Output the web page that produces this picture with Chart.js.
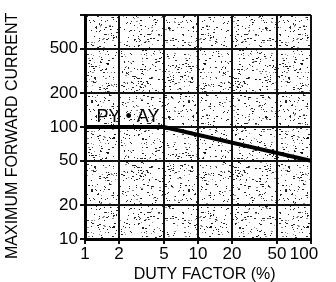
<!DOCTYPE html>
<html>
<head>
<meta charset="utf-8">
<script src="https://cdn.jsdelivr.net/npm/chart.js@4/dist/chart.umd.min.js"></script>
<style>
  html, body { margin: 0; padding: 0; background: #fff; }
  #wrap { width: 336px; height: 282px; }
</style>
</head>
<body>
<div id="wrap"><canvas id="myChart" width="336" height="282"></canvas></div>
<script>
// data
let dutyFactor = [1, 5, 100];
let maxCurrent = [100, 100, 50];

// tick values
let xTicks = [1, 2, 5, 10, 20, 50, 100];
let yTicks = [10, 20, 50, 100, 200, 500, 1000];
let yHidden = [1000];

// curve label
let curveLabel = "PY \u2022 AY";
let labelAt = [2.4, 100];

let fontFamily = "'Liberation Sans', Arial, sans-serif";

// stippled paper look for the plot area (fixed seed, purely decorative)
function makeStipple(ctx) {
  let w = 97, hgt = 89;
  let pc = document.createElement("canvas");
  pc.width = w;
  pc.height = hgt;
  let p = pc.getContext("2d");
  p.fillStyle = "#fff";
  p.fillRect(0, 0, w, hgt);
  let s = 12345;
  for (let i = 0; i < 580; i++) {
    s = (s * 1103515245 + 12345) & 0x7fffffff;
    let x = s % w;
    s = (s * 1103515245 + 12345) & 0x7fffffff;
    let y = s % hgt;
    p.fillStyle = i % 4 === 0 ? "rgba(0,0,0,0.45)" : "rgba(0,0,0,0.85)";
    p.fillRect(x, y, i % 3 === 0 ? 2 : 1, 1);
  }
  return ctx.createPattern(pc, "repeat");
}

let stipplePlugin = {
  id: "stipple",
  beforeDraw(chart) {
    let { ctx, chartArea: a } = chart;
    ctx.save();
    ctx.fillStyle = makeStipple(ctx);
    ctx.fillRect(a.left, a.top, a.right - a.left, a.bottom - a.top);
    ctx.restore();
  },
};

let labelPlugin = {
  id: "curvelabel",
  afterDatasetsDraw(chart) {
    let { ctx, scales } = chart;
    let x = scales.x.getPixelForValue(labelAt[0]);
    let y = scales.y.getPixelForValue(labelAt[1]);
    ctx.save();
    ctx.font = "18px " + fontFamily;
    ctx.fillStyle = "#000";
    ctx.textAlign = "center";
    ctx.textBaseline = "bottom";
    ctx.fillText(curveLabel, x, y - 1);
    ctx.restore();
  },
};

const ctx = document.getElementById("myChart").getContext("2d");
const myChart = new Chart(ctx, {
  type: "scatter",
  data: {
    datasets: [
      {
        data: dutyFactor.map((d, i) => ({ x: d, y: maxCurrent[i] })),
        showLine: true,
        borderColor: "#000",
        borderWidth: 4,
        pointRadius: 0,
        tension: 0,
      },
    ],
  },
  options: {
    responsive: false,
    animation: false,
    layout: { padding: { left: 0, right: 25, top: 15, bottom: 0 } },
    plugins: { legend: { display: false }, tooltip: { enabled: false } },
    scales: {
      x: {
        type: "logarithmic",
        min: 1,
        max: 100,
        afterBuildTicks: (s) => {
          s.ticks = xTicks.map((v) => ({ value: v }));
        },
        afterFit: (s) => {
          s.height = 43;
        },
        ticks: {
          autoSkip: false,
          maxRotation: 0,
          padding: 0,
          color: "#000",
          font: { family: fontFamily, size: 17 },
          // the last label sits a bit left of its line in the original
          callback: (v) => (v === 100 ? "100   " : String(v)),
        },
        grid: { color: "#111", lineWidth: 2, tickLength: 5 },
        border: { color: "#000", width: 3 },
        title: {
          display: true,
          text: "   DUTY FACTOR (%)",
          color: "#000",
          font: { family: fontFamily, size: 16 },
          padding: { top: 0, bottom: -2 },
        },
      },
      y: {
        type: "logarithmic",
        min: 10,
        max: 1000,
        afterBuildTicks: (s) => {
          s.ticks = yTicks.map((v) => ({ value: v }));
        },
        afterFit: (s) => {
          s.width = 85;
        },
        ticks: {
          autoSkip: false,
          padding: 2,
          color: "#000",
          font: { family: fontFamily, size: 17 },
          callback: (v) => (yHidden.includes(v) ? "" : String(v)),
        },
        grid: { color: "#111", lineWidth: 2, tickLength: 5 },
        border: { color: "#000", width: 3 },
        title: {
          display: true,
          text: "MAXIMUM FORWARD CURRENT    ",
          color: "#000",
          font: { family: fontFamily, size: 16 },
          padding: { top: 3, bottom: 0 },
        },
      },
    },
  },
  plugins: [stipplePlugin, labelPlugin],
});
</script>
</body>
</html>
